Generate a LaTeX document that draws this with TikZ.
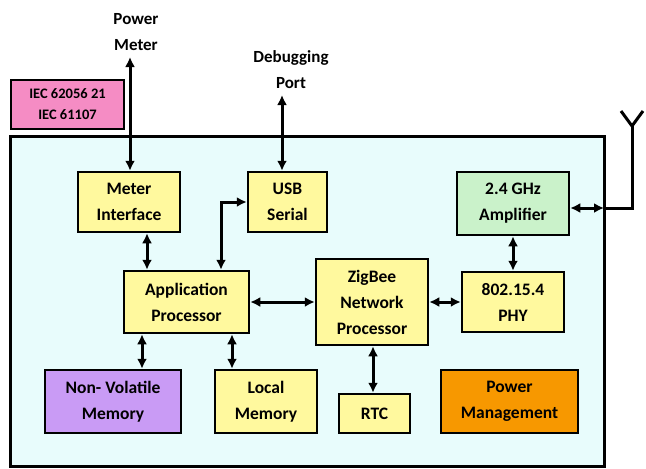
\documentclass[tikz,border=0pt]{standalone}
\usepackage{fontspec}
\setmainfont{Carlito}
\usetikzlibrary{arrows.meta}
\definecolor{bgc}{HTML}{E8FCFC}
\definecolor{yel}{HTML}{FFF99E}
\definecolor{grn}{HTML}{CAF2CA}
\definecolor{pnk}{HTML}{F58CC4}
\definecolor{prp}{HTML}{C99BF5}
\definecolor{org}{HTML}{F79800}
\begin{document}
\begin{tikzpicture}[x=1pt,y=-1pt,
  blk/.style={draw=black, line width=2.5pt, align=center, inner sep=0pt,
    font=\bfseries\fontsize{17.5}{26}\selectfont},
  conn/.style={line width=3pt, {Latex[length=10pt,width=10pt]}-{Latex[length=10pt,width=10pt]}},
  wire/.style={line width=3pt},
  lbl/.style={align=center, font=\bfseries\fontsize{17}{26}\selectfont}]
\useasboundingbox (0,0) rectangle (646,469);
% outer board
\draw[line width=3pt, fill=bgc] (10,136) rectangle (604,466);
% standards box
\node[blk, fill=pnk, minimum width=113pt, minimum height=49pt,
  font=\bfseries\fontsize{14.5}{21}\selectfont] (iec) at (67.5,104.5) {IEC 62056 21\\IEC 61107};
% blocks
\node[blk, fill=yel, minimum width=102pt, minimum height=60pt] (mi) at (129,202) {Meter\\Interface};
\node[blk, fill=yel, minimum width=79pt, minimum height=60pt] (usb) at (287.5,202) {USB\\Serial};
\node[blk, fill=grn, minimum width=112pt, minimum height=63pt] (amp) at (513,203.5) {2.4 GHz\\Amplifier};
\node[blk, fill=yel, minimum width=102pt, minimum height=60pt] (phy) at (513,302) {802.15.4\\PHY};
\node[blk, fill=yel, minimum width=112pt, minimum height=86pt] (zb) at (372,302) {ZigBee\\Network\\Processor};
\node[blk, fill=yel, minimum width=125pt, minimum height=62pt] (app) at (186.5,302) {Application\\Processor};
\node[blk, fill=prp, minimum width=136pt, minimum height=63pt] (nv) at (113,401.5) {Non- Volatile\\Memory};
\node[blk, fill=yel, minimum width=102pt, minimum height=63pt] (lm) at (266,401.5) {Local\\Memory};
\node[blk, fill=yel, minimum width=71pt, minimum height=39pt] (rtc) at (374.5,413.5) {RTC};
\node[blk, fill=org, minimum width=137pt, minimum height=63pt] (pm) at (509.5,401.5) {Power\\Management};
% external labels
\node[lbl] (pwr) at (136,32) {Power\\Meter};
\node[lbl] (dbg) at (291,70) {Debugging\\Port};
% helper coordinates
\coordinate (pmtop) at (130,57);
\coordinate (dbtop) at (282,95);
\coordinate (xa) at (147,0);
\coordinate (xb) at (221,0);
\coordinate (xc) at (142,0);
\coordinate (xd) at (232,0);
\coordinate (xe) at (373,0);
\coordinate (edge) at (604,208);
\coordinate (ant) at (632,208);
\coordinate (antv) at (632,126);
\coordinate (antl) at (621,111);
\coordinate (antr) at (643,111);
% connectors
\draw[conn] (pmtop) -- (pmtop |- mi.north);
\draw[conn] (dbtop) -- (dbtop |- usb.north);
\draw[conn] (mi.south -| xa) -- (app.north -| xa);
\draw[conn] (app.north -| xb) |- (usb.west);
\draw[conn] (app.east) -- (zb.west);
\draw[conn] (zb.east) -- (phy.west);
\draw[conn] (amp.south) -- (phy.north);
\draw[conn] (app.south -| xc) -- (nv.north -| xc);
\draw[conn] (app.south -| xd) -- (lm.north -| xd);
\draw[conn] (zb.south -| xe) -- (rtc.north -| xe);
\draw[conn] (amp.east |- edge) -- (edge);
\draw[wire] (edge) -- (ant) -- (antv);
\draw[wire, line join=miter] (antl) -- (antv) -- (antr);
\end{tikzpicture}
\end{document}
